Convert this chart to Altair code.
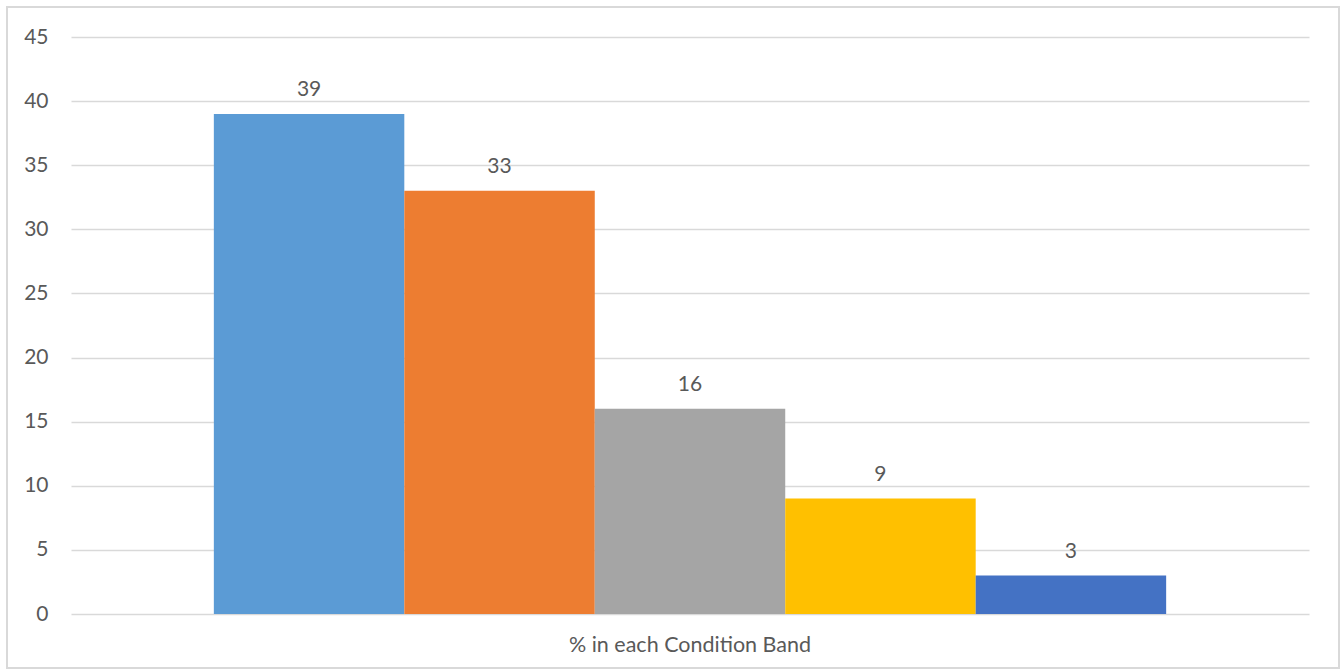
import altair as alt
import pandas as pd

category = "% in each Condition Band"
bands = ["Band 1", "Band 2", "Band 3", "Band 4", "Band 5"]
values = [39, 33, 16, 9, 3]
colors = ["#5B9BD5", "#ED7D31", "#A5A5A5", "#FFC000", "#4472C4"]

df = pd.DataFrame({"category": [category] * len(bands), "band": bands, "value": values})

FONT = "Lato"
TXT = "#595959"
FS = 21

x = alt.X("category:N", axis=alt.Axis(title=None, labelAngle=0, domain=False, ticks=False, grid=False,
                                       labelPadding=20, labelFontSize=21.5, labelColor=TXT, labelFont=FONT,
                                       labelLimit=0),
          scale=alt.Scale(paddingInner=0, paddingOuter=0.15))
xo = alt.XOffset("band:N", sort=bands, scale=alt.Scale(paddingInner=0, paddingOuter=0))
y = alt.Y("value:Q", scale=alt.Scale(domain=[0, 45]),
          axis=alt.Axis(title=None, values=list(range(0, 50, 5)), domain=False, ticks=False,
                        gridColor="#D9D9D9", gridWidth=1.5, labelPadding=23, labelFontSize=FS,
                        labelColor=TXT, labelFont=FONT))

base = alt.Chart(df)
bars = base.mark_bar().encode(
    x=x, xOffset=xo, y=y,
    color=alt.Color("band:N", sort=bands, scale=alt.Scale(domain=bands, range=colors), legend=None),
)
labels = base.mark_text(baseline="bottom", dy=-14, fontSize=FS, font=FONT, color=TXT).encode(
    x=x, xOffset=xo, y=y, text=alt.Text("value:Q")
)
border = alt.Chart(pd.DataFrame({"a": [0]})).mark_rect(fillOpacity=0, stroke="#D9D9D9", strokeWidth=2).encode(
    x=alt.value(-64), x2=alt.value(1268), y=alt.value(-30), y2=alt.value(54 + 577)
)

chart = alt.layer(border, bars, labels).properties(
    width=1238, height=577,
    background="white",
    autosize=alt.AutoSizeParams(type="none"),
    padding={"left": 71, "top": 37, "right": 34, "bottom": 56},
).configure_view(strokeWidth=0, stroke="transparent")

chart.save("out.html", embed_options={"renderer": "svg", "actions": False})
